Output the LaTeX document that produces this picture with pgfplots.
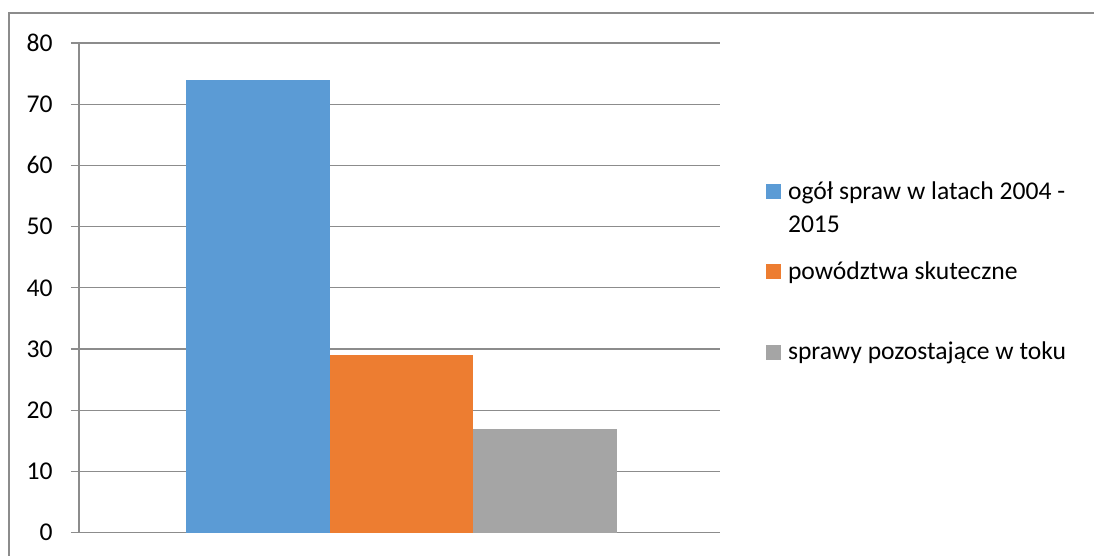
\documentclass[border=0pt]{standalone}
\usepackage{fontspec}
\setmainfont{Carlito}
\usepackage{pgfplots}
\pgfplotsset{compat=1.18}
\definecolor{cblue}{HTML}{5B9BD5}
\definecolor{corange}{HTML}{ED7D31}
\definecolor{cgray}{HTML}{A5A5A5}
\definecolor{gridgray}{HTML}{8C8C8C}
\definecolor{framegray}{HTML}{8C8C8C}
\begin{document}
\fontsize{12.8}{15}\selectfont
\begin{tikzpicture}
\useasboundingbox (0,0) rectangle (547pt,278pt);
\draw[color=framegray, line width=0.8pt] (4.5pt,0) |- (547pt,271.5pt);
\begin{axis}[
  at={(39.5pt,11.65pt)}, anchor=south west, scale only axis,
  width=320.5pt, height=244.85pt,
  xmin=0, xmax=641, ymin=0, ymax=80,
  ytick={0,10,...,80}, xtick=\empty,
  axis x line=none, axis y line*=left,
  ymajorgrids, grid style={gridgray, line width=0.6pt},
  y axis line style={gridgray, line width=0.6pt},
  ytick style={gridgray, line width=0.6pt},
  ytick align=outside, major tick length=4pt,
  yticklabel style={font=\fontsize{12.8}{15}\selectfont, anchor=east, inner sep=0pt, xshift=-9pt},
  /pgf/number format/assume math mode=true,
  ybar, bar width=143.7, bar shift=0pt,
  clip=false,
  legend cell align=left,
  legend style={at={(1.0718,0.7217)}, anchor=north west, draw=none, fill=none,
    inner sep=0pt, outer sep=0pt, row sep=0pt, column sep=3.5pt,
    nodes={inner sep=0pt, outer sep=0pt, anchor=base west, font=\fontsize{12.8}{15}\selectfont}},
]
\addplot[fill=cblue, draw=none, legend image code/.code={\fill[cblue] (0pt,0pt) rectangle (7.5pt,7.5pt);}]
  coordinates {(179,74)};
\addlegendentry[text height=10pt, text depth=6.5pt]{ogół spraw w latach 2004 -}
\addlegendimage{empty legend}
\addlegendentry[text height=10pt, text depth=13.5pt]{2015}
\addplot[fill=corange, draw=none, legend image code/.code={\fill[corange] (0pt,0pt) rectangle (7.5pt,7.5pt);}]
  coordinates {(322.5,29)};
\addlegendentry[text height=10pt, text depth=30.35pt]{powództwa skuteczne}
\addplot[fill=cgray, draw=none, legend image code/.code={\fill[cgray] (0pt,0pt) rectangle (7.5pt,7.5pt);}]
  coordinates {(466,17)};
\addlegendentry[text height=10pt, text depth=3pt]{sprawy pozostające w toku}
\end{axis}
\end{tikzpicture}
\end{document}
